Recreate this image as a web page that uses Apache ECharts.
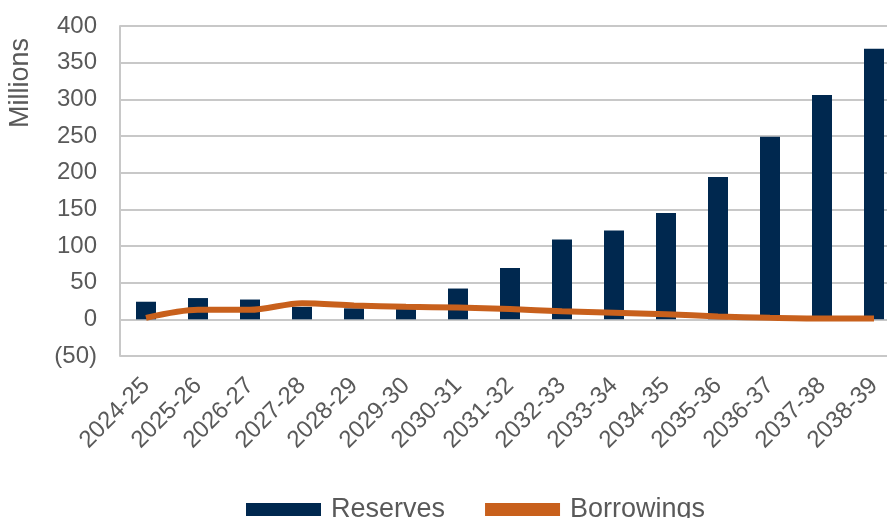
<!DOCTYPE html>
<html><head><meta charset="utf-8">
<script src="https://cdn.jsdelivr.net/npm/echarts@6/dist/echarts.min.js"></script>
<style>html,body{margin:0;padding:0;background:#fff;overflow:hidden}#c{width:900px;height:518px}</style>
</head><body><div id="c"></div>
<script>
const categories = ['2024-25','2025-26','2026-27','2027-28','2028-29','2029-30','2030-31','2031-32','2032-33','2033-34','2034-35','2035-36','2036-37','2037-38','2038-39'];
const reserves = [24, 29, 27, 17, 15, 14, 42, 70, 109, 121, 145, 194, 249, 306, 369];
const borrowings = [2, 13, 13, 22, 19, 17, 16, 14, 11, 9, 7, 4, 2, 1, 1];
const yTicks = { min: -50, max: 400, interval: 50 };

const chart = echarts.init(document.getElementById('c'));
const txt = '#595959';
const ff = 'Liberation Sans, Arial, sans-serif';
chart.setOption({
  animation: false,
  textStyle: { fontFamily: ff },
  grid: { left: 120, top: 26, right: 0, height: 330, containLabel: false },
  legend: {
    top: 491, left: 241,
    itemWidth: 75, itemHeight: 13, itemGap: 40,
    textStyle: { color: txt, fontSize: 27, fontFamily: ff, padding: [0, 0, 0, 5] },
    data: [
      { name: 'Reserves', icon: 'rect' },
      { name: 'Borrowings', icon: 'rect' }
    ]
  },
  xAxis: {
    type: 'category', data: categories,
    axisLine: { show: false, onZero: false },
    axisTick: { show: false },
    axisLabel: { rotate: 45, color: txt, fontSize: 24, margin: 26, interval: 0 }
  },
  yAxis: {
    type: 'value', min: yTicks.min, max: yTicks.max, interval: yTicks.interval,
    name: 'Millions', nameLocation: 'end', nameRotate: 90, nameGap: 0,
    nameTextStyle: { color: txt, fontSize: 27, align: 'right', verticalAlign: 'bottom', padding: [0, 12, 86, 0] },
    axisLine: { show: true, lineStyle: { color: '#c8c8c8', width: 2 } },
    axisTick: { show: false },
    splitLine: { lineStyle: { color: '#c8c8c8', width: 2 } },
    axisLabel: { color: txt, fontSize: 24, margin: 23,
      formatter: v => v < 0 ? '(' + Math.abs(v) + ')' : String(v) }
  },
  series: [
    { name: 'Reserves', type: 'bar', data: reserves, barWidth: 20,
      itemStyle: { color: '#00284F' }, z: 2 },
    { name: 'Borrowings', type: 'line', data: borrowings, smooth: 0.3,
      showSymbol: false, symbol: 'none',
      lineStyle: { color: '#C8601C', width: 6 }, itemStyle: { color: '#C8601C' }, z: 3 }
  ]
});
</script></body></html>
